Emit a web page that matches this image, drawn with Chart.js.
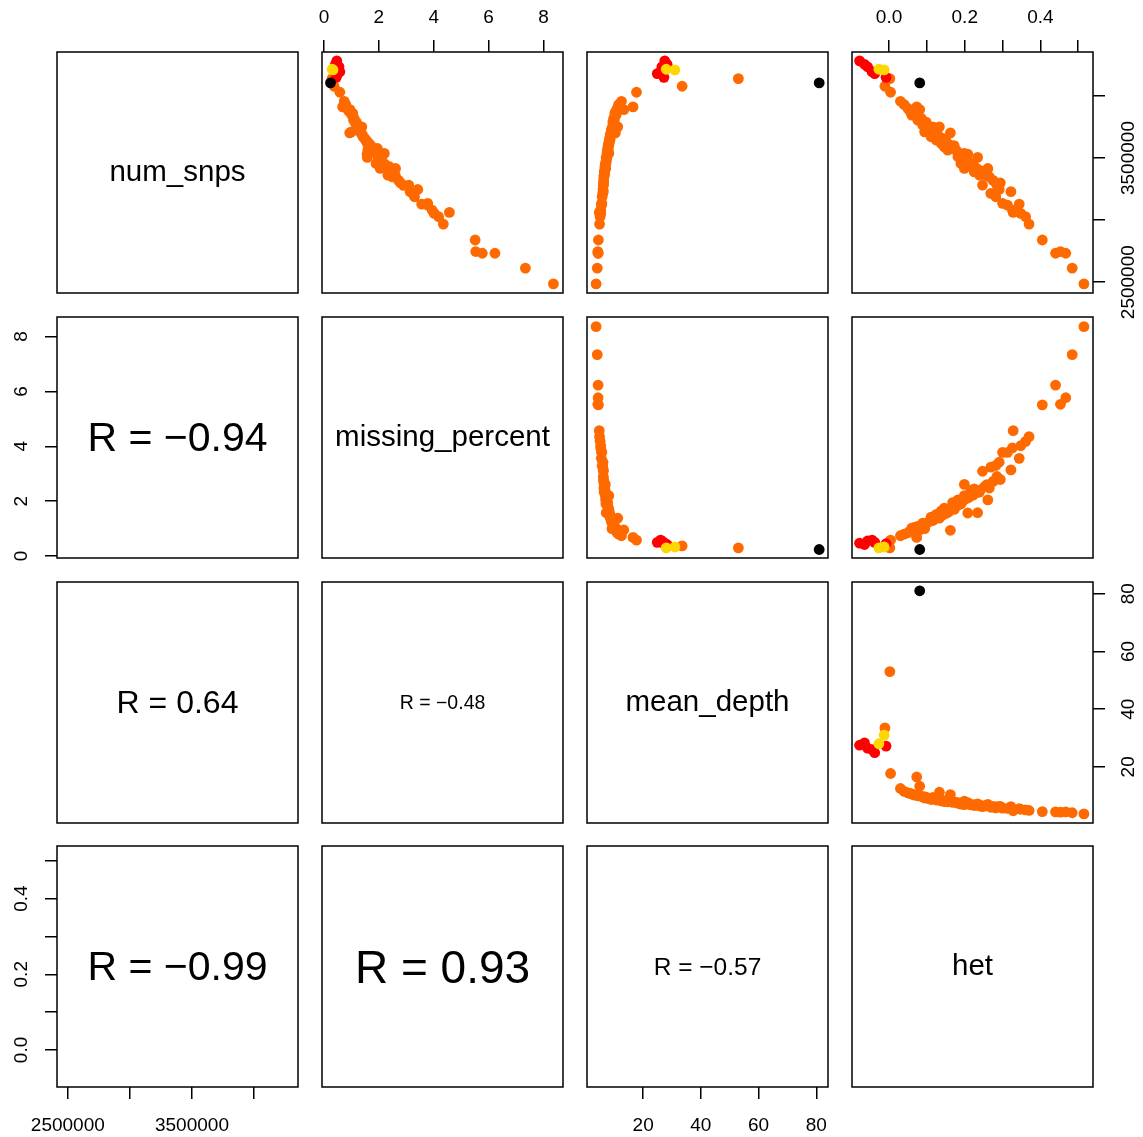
<!DOCTYPE html>
<html>
<head>
<meta charset="utf-8">
<script src="https://cdn.jsdelivr.net/npm/chart.js@4.4.1/dist/chart.umd.min.js"></script>
<style>
  body { margin: 0; background: #fff; width: 1143px; height: 1137px; position: relative; overflow: hidden;
         font-family: "Liberation Sans", Arial, sans-serif; }
  .panel { position: absolute; }
  .txt { position: absolute; display: flex; align-items: center; justify-content: center; color: #000; white-space: nowrap; }
</style>
</head>
<body>
<script>
// --- DATA (one entry per sample) ---
const het = [
  0.002, -0.011, 0.004, 0.030, 0.050, 0.073, 0.081, 0.060, 0.076, 0.089,
  0.094, 0.116, 0.133, 0.162, 0.111, 0.125, 0.138, 0.146, 0.155, 0.168,
  0.182, 0.199, 0.208, 0.234, 0.190, 0.199, 0.217, 0.225, 0.239, 0.261,
  0.265, 0.247, 0.269, 0.291, 0.322, 0.282, 0.300, 0.313, 0.326, 0.344,
  0.348, 0.361, 0.370, 0.405, 0.440, 0.453, 0.467, 0.484, 0.515, 0.328,
  0.294, 0.040, 0.055, 0.068, 0.085, 0.098, 0.105, 0.120, 0.128, 0.140,
  0.150, 0.158, 0.172, 0.178, 0.185, 0.195, 0.205, 0.212, 0.222, 0.230,
  0.240, 0.252, 0.258, 0.275, 0.285, 0.110, 0.145, 0.190, 0.092, 0.065,
  -0.078, -0.065, -0.057, -0.045, -0.038, -0.008,
  -0.027, -0.013,
  0.081
];
const numSnps = [
  4140000, 4078000, 4030000, 3957000, 3899000, 3912000, 3890000, 3845000, 3805000, 3765000,
  3711000, 3751000, 3751000, 3703000, 3671000, 3644000, 3617000, 3590000, 3564000, 3577000,
  3510000, 3537000, 3532000, 3505000, 3456000, 3416000, 3430000, 3389000, 3362000, 3416000,
  3349000, 3282000, 3215000, 3247000, 3229000, 3188000, 3135000, 3121000, 3081000, 3129000,
  3054000, 3027000, 2968000, 2840000, 2733000, 2747000, 2733000, 2613000, 2486000, 3062000,
  3300000, 3930000, 3880000, 3860000, 3820000, 3790000, 3730000, 3700000, 3690000, 3660000,
  3640000, 3610000, 3600000, 3560000, 3540000, 3490000, 3480000, 3465000, 3450000, 3420000,
  3400000, 3380000, 3360000, 3320000, 3280000, 3720000, 3620000, 3500000, 3780000, 3870000,
  4283000, 4255000, 4235000, 4195000, 4180000, 4150000,
  4215000, 4210000,
  4105000
];
const missingPct = [
  0.30, 0.37, 0.58, 0.74, 0.85, 0.68, 0.95, 1.02, 1.08, 1.20,
  1.00, 1.30, 1.38, 0.94, 1.42, 1.52, 1.65, 1.75, 1.60, 1.95,
  2.05, 2.20, 1.57, 1.58, 1.90, 2.61, 2.39, 2.45, 2.33, 2.05,
  2.48, 3.09, 3.24, 3.42, 3.14, 3.30, 3.78, 3.78, 3.94, 3.56,
  4.02, 4.18, 4.35, 5.51, 6.23, 5.53, 5.77, 7.34, 8.36, 4.57,
  2.79, 0.80, 0.90, 1.05, 1.10, 1.18, 1.25, 1.35, 1.40, 1.48,
  1.55, 1.62, 1.70, 1.82, 1.88, 2.00, 2.10, 2.15, 2.22, 2.30,
  2.40, 2.52, 2.60, 2.72, 2.90, 1.28, 1.58, 1.98, 1.15, 0.95,
  0.47, 0.42, 0.55, 0.58, 0.50, 0.45,
  0.30, 0.33,
  0.24
];
const meanDepth = [
  53.0, 33.5, 17.7, 12.5, 11.0, 16.5, 13.3, 10.6, 10.0, 9.6,
  9.2, 9.4, 11.2, 10.4, 8.7, 8.5, 8.2, 8.0, 7.9, 7.7,
  7.4, 8.1, 7.6, 7.2, 7.1, 6.9, 6.8, 6.6, 6.5, 7.0,
  6.4, 6.2, 6.0, 6.1, 6.2, 5.8, 5.7, 5.6, 5.3, 5.5,
  5.3, 5.1, 4.9, 4.5, 4.4, 4.3, 4.4, 4.1, 3.7, 4.8,
  6.3, 11.5, 10.8, 10.2, 9.8, 9.5, 9.0, 8.9, 8.6, 8.4,
  8.3, 8.0, 7.9, 7.7, 7.5, 7.3, 7.2, 7.1, 6.9, 6.8,
  6.7, 6.6, 6.5, 6.3, 6.2, 9.1, 8.1, 7.4, 9.7, 10.4,
  27.5, 28.3, 26.5, 26.0, 24.9, 27.2,
  28.0, 31.0,
  81.0
];
const group = [].concat(
  Array(80).fill('orange'),
  Array(6).fill('red'),
  Array(2).fill('yellow'),
  ['black']
);

const varNames = ['num_snps', 'missing_percent', 'mean_depth', 'het'];
const axisMin = [2413000, -0.07, 0.55, -0.098];
const axisMax = [4354000, 8.71, 84.05, 0.539];
// tick marks and the labels R kept (empty = tick without label)
const tickValues = [
  [2500000, 3000000, 3500000, 4000000],
  [0, 2, 4, 6, 8],
  [20, 40, 60, 80],
  [0, 0.1, 0.2, 0.3, 0.4, 0.5]
];
const tickLabels = [
  ['2500000', '', '3500000', ''],
  ['0', '2', '4', '6', '8'],
  ['20', '40', '60', '80'],
  ['0.0', '', '0.2', '', '0.4', '']
];
// lower-panel correlation texts and their sizes, [row, col, text, px]
const corrText = [
  [1, 0, 'R = \u22120.94', 41],
  [2, 0, 'R = 0.64', 32],
  [2, 1, 'R = \u22120.48', 19.5],
  [3, 0, 'R = \u22120.99', 41],
  [3, 1, 'R = 0.93', 46],
  [3, 2, 'R = \u22120.57', 24.5]
];

const groupColors = { black: '#000000', yellow: '#FFD700', red: '#FF0000', orange: '#FF6A00' };
const groupOrder = ['black', 'yellow', 'red', 'orange']; // first dataset is drawn on top

const FONT = '"Liberation Sans", Arial, sans-serif';
const PANEL_X = [57, 322, 587, 852];
const PANEL_Y = [52, 317, 582, 846];
const SIZE = 241;
const M = 50;

const series = [numSnps, missingPct, meanDepth, het];

// box around every panel + rotated y tick labels (R style)
const rPanel = {
  id: 'rPanel',
  afterDraw(chart) {
    const { ctx, chartArea: a } = chart;
    ctx.save();
    ctx.strokeStyle = '#000';
    ctx.lineWidth = 1.5;
    ctx.strokeRect(a.left, a.top, a.right - a.left, a.bottom - a.top);
    const ys = chart.scales.y;
    if (ys && ys.options.display) {
      ctx.font = '19px ' + FONT;
      ctx.fillStyle = '#000';
      ctx.textAlign = 'center';
      ctx.textBaseline = 'middle';
      const x = ys.position === 'left' ? a.left - 35 : a.right + 36;
      ys.ticks.forEach(t => {
        if (!t.label) return;
        ctx.save();
        ctx.translate(x, ys.getPixelForValue(t.value));
        ctx.rotate(-Math.PI / 2);
        ctx.fillText(t.label, 0, 0);
        ctx.restore();
      });
    }
    ctx.restore();
  }
};

function scaleOpts(v, pos, show) {
  const horizontal = pos === 'top' || pos === 'bottom';
  return {
    type: 'linear',
    position: pos,
    display: show,
    min: axisMin[v],
    max: axisMax[v],
    afterBuildTicks: s => { s.ticks = tickValues[v].map(value => ({ value })); },
    afterFit: s => {
      if (!show) return;
      if (horizontal) s.height = M; else s.width = M;
      s.paddingLeft = s.paddingRight = s.paddingTop = s.paddingBottom = 0;
    },
    ticks: {
      autoSkip: false,
      maxRotation: 0,
      minRotation: 0,
      display: horizontal,
      color: '#000',
      font: { family: FONT, size: 19 },
      padding: pos === 'top' ? 11 : 15,
      callback: (val, i) => tickLabels[v][i]
    },
    grid: { drawOnChartArea: false, drawTicks: true, tickLength: 12, color: '#000', lineWidth: 1.5 },
    border: { display: false }
  };
}

function makePanel(r, c) {
  const wrap = document.createElement('div');
  wrap.className = 'panel';
  wrap.style.left = (PANEL_X[c] - M) + 'px';
  wrap.style.top = (PANEL_Y[r] - M) + 'px';
  const cv = document.createElement('canvas');
  cv.width = SIZE + 2 * M;
  cv.height = SIZE + 2 * M;
  cv.style.width = cv.width + 'px';
  cv.style.height = cv.height + 'px';
  wrap.appendChild(cv);
  document.body.appendChild(wrap);

  const showTop = r === 0 && c % 2 === 1;
  const showBottom = r === 3 && c % 2 === 0;
  const showLeft = c === 0 && r % 2 === 1;
  const showRight = c === 3 && r % 2 === 0;

  const datasets = [];
  if (r < c) {
    groupOrder.forEach(g => {
      const pts = [];
      group.forEach((gg, i) => { if (gg === g) pts.push({ x: series[c][i], y: series[r][i] }); });
      datasets.push({
        data: pts,
        backgroundColor: groupColors[g],
        pointRadius: 5.4,
        pointBorderWidth: 0,
        pointHoverRadius: 5.4
      });
    });
  }

  new Chart(cv, {
    type: 'scatter',
    data: { datasets },
    options: {
      responsive: false,
      animation: false,
      devicePixelRatio: 1,
      events: [],
      layout: { padding: {
        left: showLeft ? 0 : M, right: showRight ? 0 : M,
        top: showTop ? 0 : M, bottom: showBottom ? 0 : M
      } },
      plugins: { legend: { display: false }, tooltip: { enabled: false } },
      scales: {
        x: scaleOpts(c, showTop ? 'top' : 'bottom', showTop || showBottom),
        y: scaleOpts(r, showRight ? 'right' : 'left', showLeft || showRight)
      }
    },
    plugins: [rPanel]
  });
}

function addText(r, c, text, px, dy) {
  const d = document.createElement('div');
  d.className = 'txt';
  d.style.left = PANEL_X[c] + 'px';
  d.style.top = (PANEL_Y[r] + (dy || 0)) + 'px';
  d.style.width = SIZE + 'px';
  d.style.height = SIZE + 'px';
  d.style.fontSize = px + 'px';
  d.textContent = text;
  document.body.appendChild(d);
}

for (let r = 0; r < 4; r++) {
  for (let c = 0; c < 4; c++) makePanel(r, c);
}
varNames.forEach((n, i) => addText(i, i, n, 29.5, -2));
corrText.forEach(([r, c, t, px]) => addText(r, c, t, px));
</script>
</body>
</html>
